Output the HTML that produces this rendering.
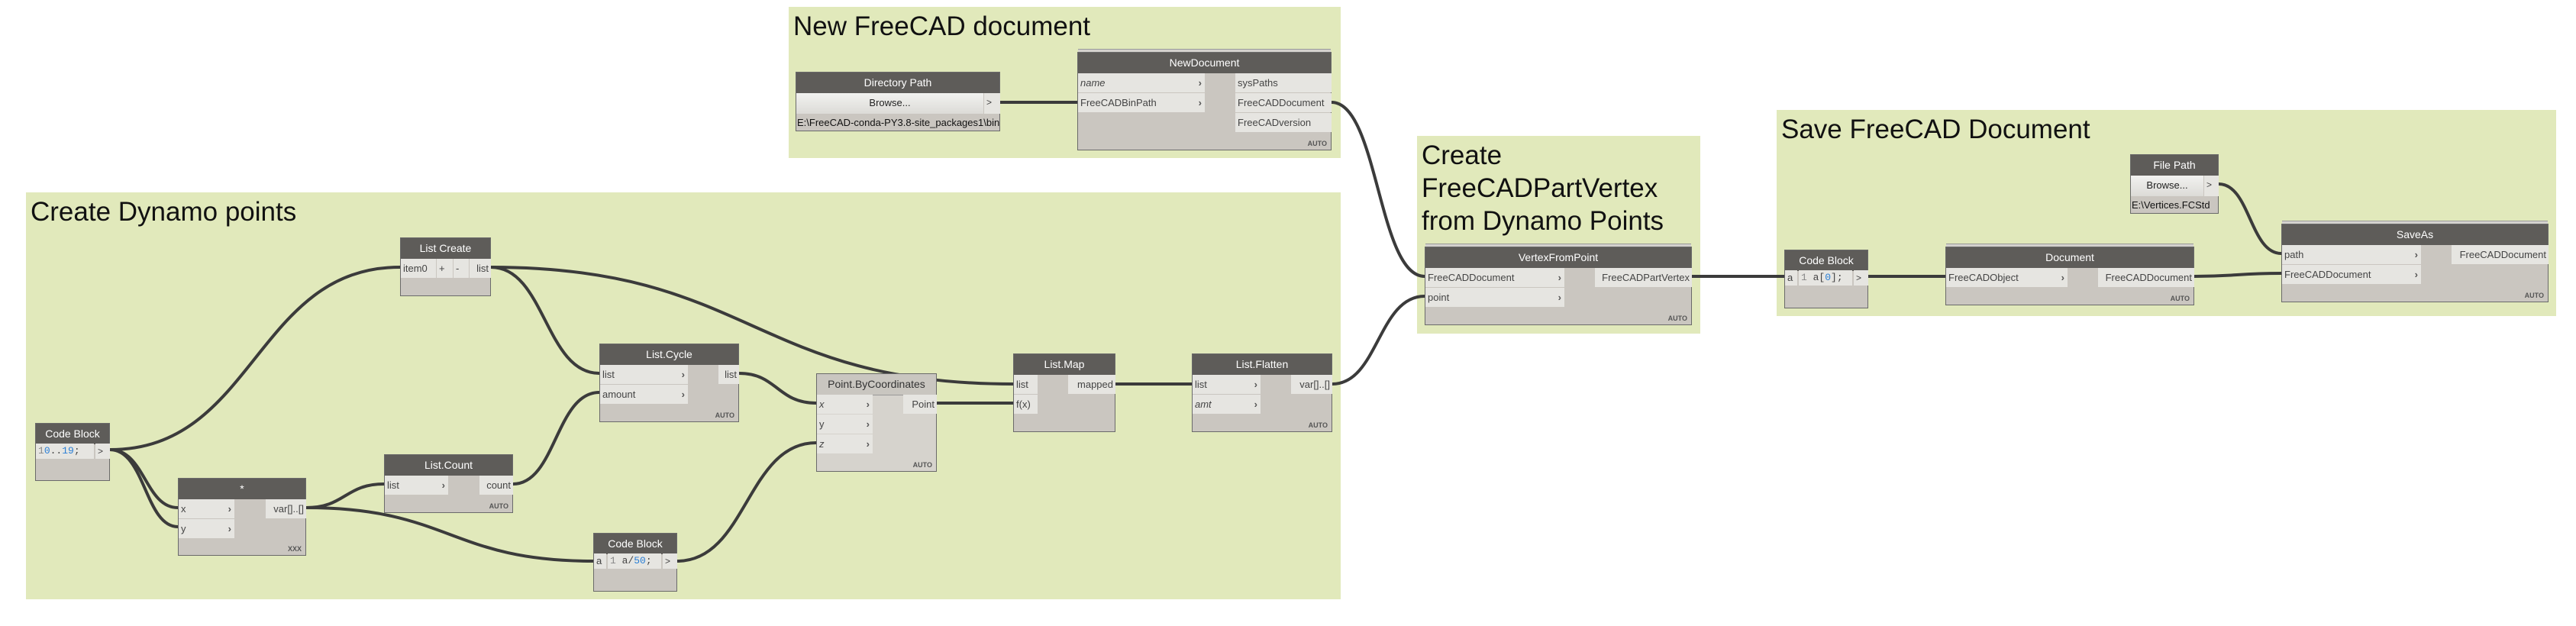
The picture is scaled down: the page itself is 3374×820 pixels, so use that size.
<!DOCTYPE html>
<html><head><meta charset="utf-8"><style>
body{margin:0;width:3374px;height:820px;background:#fff;position:relative;overflow:hidden;font-family:"Liberation Sans Narrow","Liberation Sans",sans-serif}
.g{position:absolute;background:#e1e9bb}
.gt{position:absolute;left:6px;top:4px;font-size:35px;color:#111;line-height:43px;white-space:nowrap}
.n{position:absolute;background:#cac6c0;border:1px solid #6a6a6a;box-sizing:border-box;font-size:13px;color:#444}
.n.st{box-shadow:0 -4px 0 -1px #d4d2ce,0 -5px 0 -1px #999}
.hd{position:absolute;left:0;right:0;top:0;height:27px;background:#5e5c59;color:#fff;text-align:center;line-height:27px;font-size:14px}
.hd.lt{background:#c9c6c0;color:#333;border-bottom:1px solid #999}
.p{position:absolute;height:25px;line-height:25px;background:#e6e5e1;white-space:nowrap;padding:0 3px;box-sizing:border-box;overflow:hidden}
.p b{position:absolute;right:4px;top:0;font-weight:bold;color:#555}
.o{text-align:right}
.au{position:absolute;right:5px;bottom:3px;font-size:9px;font-weight:bold;color:#555}
.cb{position:absolute;top:26px;height:20px;line-height:20px;background:#e6e5e1;font-family:"Liberation Mono",monospace;font-size:13px;box-sizing:border-box;padding:0 3px}
.bl{color:#2a7fd6}
i{font-style:italic}
</style></head><body>

<div class="g" style="left:34px;top:252px;width:1722px;height:533px"><div class="gt">Create Dynamo points</div></div>
<div class="g" style="left:1033px;top:9px;width:723px;height:198px"><div class="gt">New FreeCAD document</div></div>
<div class="g" style="left:1856px;top:178px;width:371px;height:259px"><div class="gt">Create<br>FreeCADPartVertex<br>from Dynamo Points</div></div>
<div class="g" style="left:2327px;top:144px;width:1021px;height:270px"><div class="gt">Save FreeCAD Document</div></div>

<svg width="3374" height="820" style="position:absolute;left:0;top:0" fill="none" stroke="#3b3b3b" stroke-width="4">
<path d="M144 589 C334 589 334 350 524 350"/>
<path d="M144 589 C190 589 190 665 233 665"/>
<path d="M144 589 C190 589 190 690 233 690"/>
<path d="M643 350 C714 350 714 489 785 489"/>
<path d="M643 350 C985 350 985 503 1327 503"/>
<path d="M401 665 C452 665 452 634 503 634"/>
<path d="M401 665 C589 665 589 735 777 735"/>
<path d="M672 634 C728 634 728 514 785 514"/>
<path d="M968 489 C1018 489 1018 528 1069 528"/>
<path d="M887 735 C978 735 978 580 1069 580"/>
<path d="M1227 528 L1327 528"/>
<path d="M1461 503 L1561 503"/>
<path d="M1745 503 C1805 503 1805 388 1866 388"/>
<path d="M1310 134 L1411 134"/>
<path d="M1744 134 C1805 134 1805 362 1866 362"/>
<path d="M2216 362 L2337 362"/>
<path d="M2447 362 L2548 362"/>
<path d="M2874 362 C2930 362 2930 358 2988 358"/>
<path d="M2906 241 C2947 241 2947 332 2988 332"/>
</svg>

<div class="n" style="left:46px;top:554px;width:98px;height:76px"><div class="hd">Code Block</div>
<div class="cb" style="left:0;width:76px"><span style="color:#888">1</span><span class="bl">0</span>..<span class="bl">19</span>;</div>
<div class="cb" style="left:78px;width:19px;font-family:'Liberation Sans';font-size:12px">&gt;</div></div>

<div class="n" style="left:524px;top:311px;width:119px;height:77px"><div class="hd">List Create</div>
<div class="p" style="left:0;top:27px;width:46px">item0</div>
<div class="p" style="left:47px;top:27px;width:21px">+</div>
<div class="p" style="left:69px;top:27px;width:20px">-</div>
<div class="p o" style="left:90px;top:27px;width:28px">list</div></div>

<div class="n" style="left:785px;top:450px;width:183px;height:103px"><div class="hd">List.Cycle</div>
<div class="p" style="left:0;top:27px;width:115px">list<b>›</b></div>
<div class="p" style="left:0;top:53px;width:115px">amount<b>›</b></div>
<div class="p o" style="left:155px;top:27px;width:27px">list</div><div class="au">AUTO</div></div>

<div class="n" style="left:503px;top:595px;width:169px;height:77px"><div class="hd">List.Count</div>
<div class="p" style="left:0;top:27px;width:83px">list<b>›</b></div>
<div class="p o" style="left:124px;top:27px;width:44px">count</div><div class="au">AUTO</div></div>

<div class="n" style="left:233px;top:626px;width:168px;height:102px"><div class="hd">*</div>
<div class="p" style="left:0;top:27px;width:73px">x<b>›</b></div>
<div class="p" style="left:0;top:53px;width:73px">y<b>›</b></div>
<div class="p o" style="left:114px;top:27px;width:53px">var[]..[]</div><div class="au">XXX</div></div>

<div class="n" style="left:777px;top:698px;width:110px;height:77px"><div class="hd">Code Block</div>
<div class="cb" style="left:0;width:16px;font-family:'Liberation Sans'">a</div>
<div class="cb" style="left:18px;width:70px"><span style="color:#888">1</span> a/<span class="bl">50</span>;</div>
<div class="cb" style="left:90px;width:19px;font-family:'Liberation Sans';font-size:12px">&gt;</div></div>

<div class="n" style="left:1069px;top:489px;width:158px;height:129px;background:#d6d3cd"><div class="hd lt">Point.ByCoordinates</div>
<div class="p" style="left:0;top:27px;width:73px"><i>x</i><b>›</b></div>
<div class="p" style="left:0;top:53px;width:73px">y<b>›</b></div>
<div class="p" style="left:0;top:79px;width:73px"><i>z</i><b>›</b></div>
<div class="p o" style="left:113px;top:27px;width:44px">Point</div><div class="au">AUTO</div></div>

<div class="n" style="left:1327px;top:463px;width:134px;height:103px"><div class="hd">List.Map</div>
<div class="p" style="left:0;top:27px;width:31px">list</div>
<div class="p" style="left:0;top:53px;width:31px">f(x)</div>
<div class="p o" style="left:71px;top:27px;width:62px">mapped</div></div>

<div class="n" style="left:1561px;top:463px;width:184px;height:103px"><div class="hd">List.Flatten</div>
<div class="p" style="left:0;top:27px;width:89px">list<b>›</b></div>
<div class="p" style="left:0;top:53px;width:89px"><i>amt</i><b>›</b></div>
<div class="p o" style="left:129px;top:27px;width:54px">var[]..[]</div><div class="au">AUTO</div></div>

<div class="n" style="left:1042px;top:94px;width:268px;height:78px"><div class="hd">Directory Path</div>
<div class="p" style="left:0;top:27px;width:245px;height:27px;text-align:center;background:linear-gradient(#f2f2f0,#dcdbd7);color:#222">Browse...</div>
<div class="p" style="left:246px;top:27px;width:21px;height:27px;font-size:12px">&gt;</div>
<div style="position:absolute;left:1px;top:55px;font-size:13px;color:#111;line-height:22px;white-space:nowrap">E:\FreeCAD-conda-PY3.8-site_packages1\bin</div></div>

<div class="n st" style="left:1411px;top:68px;width:333px;height:129px"><div class="hd">NewDocument</div>
<div class="p" style="left:0;top:27px;width:166px"><i>name</i><b>›</b></div>
<div class="p" style="left:0;top:53px;width:166px">FreeCADBinPath<b>›</b></div>
<div class="p" style="left:206px;top:27px;width:126px">sysPaths</div>
<div class="p" style="left:206px;top:53px;width:126px">FreeCADDocument</div>
<div class="p" style="left:206px;top:79px;width:126px">FreeCADversion</div><div class="au">AUTO</div></div>

<div class="n st" style="left:1866px;top:323px;width:350px;height:103px"><div class="hd">VertexFromPoint</div>
<div class="p" style="left:0;top:27px;width:182px">FreeCADDocument<b>›</b></div>
<div class="p" style="left:0;top:53px;width:182px">point<b>›</b></div>
<div class="p o" style="left:222px;top:27px;width:127px">FreeCADPartVertex</div><div class="au">AUTO</div></div>

<div class="n" style="left:2337px;top:327px;width:110px;height:77px"><div class="hd">Code Block</div>
<div class="cb" style="left:0;width:16px;font-family:'Liberation Sans'">a</div>
<div class="cb" style="left:18px;width:70px"><span style="color:#888">1</span> a[<span class="bl">0</span>];</div>
<div class="cb" style="left:90px;width:19px;font-family:'Liberation Sans';font-size:12px">&gt;</div></div>

<div class="n st" style="left:2548px;top:323px;width:326px;height:77px"><div class="hd">Document</div>
<div class="p" style="left:0;top:27px;width:159px">FreeCADObject<b>›</b></div>
<div class="p o" style="left:199px;top:27px;width:126px">FreeCADDocument</div><div class="au">AUTO</div></div>

<div class="n" style="left:2790px;top:202px;width:116px;height:78px"><div class="hd">File Path</div>
<div class="p" style="left:0;top:27px;width:95px;height:27px;text-align:center;background:linear-gradient(#f2f2f0,#dcdbd7);color:#222">Browse...</div>
<div class="p" style="left:96px;top:27px;width:19px;height:27px;font-size:12px">&gt;</div>
<div style="position:absolute;left:1px;top:55px;font-size:13px;color:#111;line-height:22px;white-space:nowrap">E:\Vertices.FCStd</div></div>

<div class="n st" style="left:2988px;top:293px;width:350px;height:103px"><div class="hd">SaveAs</div>
<div class="p" style="left:0;top:27px;width:182px">path<b>›</b></div>
<div class="p" style="left:0;top:53px;width:182px">FreeCADDocument<b>›</b></div>
<div class="p o" style="left:222px;top:27px;width:127px">FreeCADDocument</div><div class="au">AUTO</div></div>
</body></html>
